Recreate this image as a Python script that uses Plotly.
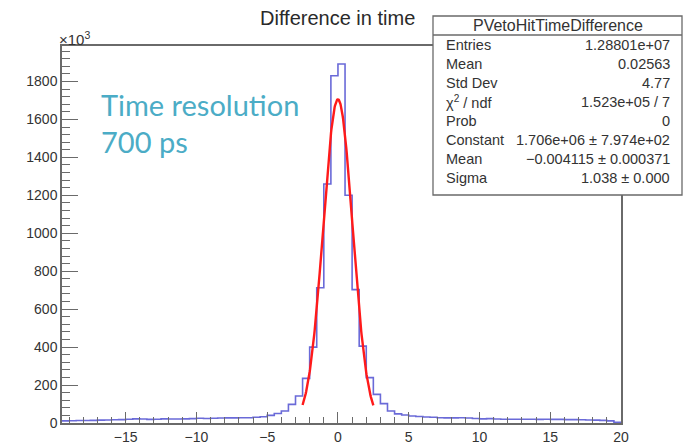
import plotly.graph_objects as go
import math

# ---------------- data ----------------
bin_low = -19.5
bin_width = 0.5
# counts per bin (units of 10^3), bins from -19.5 to 20 in steps of 0.5
counts_left_tail = [11, 12, 13, 13, 14, 15, 16, 17, 18, 20,
                    22, 21, 19, 20, 22, 21, 21, 22, 23, 25,
                    24, 25, 26, 27, 27, 28, 28]
counts_core = [30, 33, 40, 50, 63, 98, 142, 235, 400, 713, 1260, 1830,
               1892, 1200, 703, 405, 239, 151, 102, 63, 48, 42, 37, 34]
counts_right_tail = [32, 30, 28, 27, 27, 28, 26, 24, 22, 23, 21, 20, 20, 20,
                     20, 20, 19, 20, 19, 19, 18, 18, 17, 16, 15, 14, 11, 4]
counts = counts_left_tail + counts_core + counts_right_tail

# Gaussian fit parameters (from the stats box)
fit_constant = 1.706e6
fit_mean = -0.004115
fit_sigma = 1.038
fit_range = (-2.5, 2.5)

x_tick_vals = [-15, -10, -5, 0, 5, 10, 15, 20]
y_tick_vals = [0, 200, 400, 600, 800, 1000, 1200, 1400, 1600, 1800]

stats_title = "PVetoHitTimeDifference"
stats_rows = [
    ("Entries", "1.28801e+07"),
    ("Mean", "0.02563"),
    ("Std Dev", "4.77"),
    ("χ<sup>2</sup> / ndf", "1.523e+05 / 7"),
    ("Prob", "0"),
    ("Constant", "1.706e+06 ± 7.974e+02"),
    ("Mean", "−0.004115 ± 0.000371"),
    ("Sigma", "1.038 ± 0.000"),
]

# ---------------- build ----------------
edges = [bin_low + i * bin_width for i in range(len(counts) + 1)]
step_y = counts + [counts[-1]]

n_fit = 200
fit_x = [fit_range[0] + (fit_range[1] - fit_range[0]) * i / (n_fit - 1) for i in range(n_fit)]
fit_y = [fit_constant * math.exp(-0.5 * ((x - fit_mean) / fit_sigma) ** 2) / 1000 for x in fit_x]

W, H = 689, 445
L, R, T, B = 62, 621, 46, 423
ML, MR, MT, MB = L, W - R, T, H - B


def px(x):
    return (x - L) / (R - L)


def py(y):
    return (B - y) / (B - T)


fig = go.Figure()
fig.add_trace(go.Scatter(x=edges, y=step_y, mode="lines", line_shape="hv",
                         line=dict(color="#6a6ad8", width=1.6), hoverinfo="skip"))
fig.add_trace(go.Scatter(x=fit_x, y=fit_y, mode="lines",
                         line=dict(color="#ff1a1a", width=2.4), hoverinfo="skip"))

axis_col = "#6a6a6a"
helv = "Liberation Sans, Arial, sans-serif"
tick_font = dict(family=helv, size=14, color="#333333")

fig.update_layout(
    width=W, height=H,
    margin=dict(l=ML, r=MR, t=MT, b=MB, pad=0),
    paper_bgcolor="white", plot_bgcolor="white",
    showlegend=False,
    xaxis=dict(range=[bin_low, 20], tickvals=x_tick_vals, ticks="inside", ticklen=11,
               tickcolor=axis_col, tickwidth=1.2, showline=True, linecolor=axis_col,
               linewidth=1.5, mirror=True, showgrid=False, zeroline=False,
               tickfont=tick_font, automargin=False,
               minor=dict(dtick=1, tick0=0, ticks="inside", ticklen=6,
                          tickcolor=axis_col, tickwidth=1.2, showgrid=False)),
    yaxis=dict(range=[0, 1987], tickvals=y_tick_vals, ticks="inside", ticklen=16,
               tickcolor=axis_col, tickwidth=1.2, showline=True, linecolor=axis_col,
               linewidth=1.5, mirror=True, showgrid=False, zeroline=False,
               tickfont=tick_font, automargin=False,
               minor=dict(dtick=40, tick0=0, ticks="inside", ticklen=8,
                          tickcolor=axis_col, tickwidth=1.2, showgrid=False)),
)

annotations = []
# main title
annotations.append(dict(text="Difference in time", x=px(337), y=py(18), xref="paper", yref="paper",
                        showarrow=False, xanchor="center", yanchor="middle",
                        font=dict(family=helv, size=20, color="#2a2a2a")))
# x10^3
annotations.append(dict(text="×10<sup>3</sup>", x=px(57), y=py(38), xref="paper", yref="paper",
                        showarrow=False, xanchor="left", yanchor="middle",
                        font=dict(family=helv, size=15, color="#333333")))
# Time resolution text
annotations.append(dict(text="Time resolution", x=px(99), y=py(104), xref="paper", yref="paper",
                        showarrow=False, xanchor="left", yanchor="middle",
                        font=dict(family="Lato, sans-serif", size=29, color="#4bacc6")))
annotations.append(dict(text="700 ps", x=px(99), y=py(141), xref="paper", yref="paper",
                        showarrow=False, xanchor="left", yanchor="middle",
                        font=dict(family="Lato, sans-serif", size=29, color="#4bacc6")))

# stats box
bx0, bx1, by0, by1 = 433, 682, 16, 195
sep_y = 35
shapes = [
    dict(type="rect", xref="paper", yref="paper", x0=px(bx0), x1=px(bx1), y0=py(by1), y1=py(by0),
         fillcolor="white", line=dict(color="#6a6a6a", width=1.3), layer="above"),
    dict(type="line", xref="paper", yref="paper", x0=px(bx0), x1=px(bx1), y0=py(sep_y), y1=py(sep_y),
         line=dict(color="#6a6a6a", width=1.3), layer="above"),
]
stat_font = dict(family=helv, size=14.5, color="#333333")
annotations.append(dict(text=stats_title, x=px((bx0 + bx1) / 2), y=py(25.5), xref="paper", yref="paper",
                        showarrow=False, xanchor="center", yanchor="middle",
                        font=dict(family=helv, size=16, color="#333333")))
row_y0, row_dy = 45, 19.0
for i, (lab, val) in enumerate(stats_rows):
    yy = row_y0 + i * row_dy
    annotations.append(dict(text=lab, x=px(444), y=py(yy), xref="paper", yref="paper",
                            showarrow=False, xanchor="left", yanchor="middle", font=stat_font))
    annotations.append(dict(text=val, x=px(672), y=py(yy), xref="paper", yref="paper",
                            showarrow=False, xanchor="right", yanchor="middle", font=stat_font))

fig.update_layout(annotations=annotations, shapes=shapes)
fig.write_html("out.html")
